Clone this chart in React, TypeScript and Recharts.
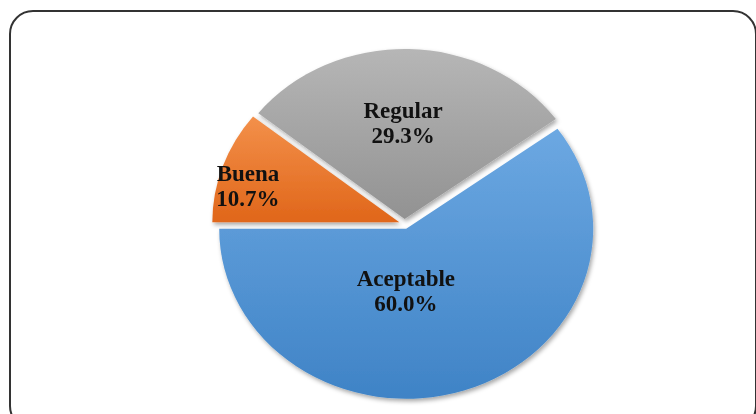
import React from "react";
import { PieChart, Pie, Cell, Sector } from "recharts";

const categories = ["Aceptable", "Buena", "Regular"];
const values = [60.0, 10.7, 29.3];

const data = categories.map((name, i) => ({ name, value: values[i] }));

const GRADIENTS = [
  { id: "gBlue", top: "#6ca8e2", bottom: "#3f83c6" },
  { id: "gOrange", top: "#f3904a", bottom: "#e0661a" },
  { id: "gGray", top: "#b6b6b6", bottom: "#929292" },
];

const SCALE_X = 1.1;
const EXPLODE = 5;
// label placement per slice: fraction of radius, angle shift (deg)
const LABEL_PLACE = [
  { f: 0.42, shift: -17 },
  { f: 0.86, shift: 6 },
  { f: 0.57, shift: 2 },
];

const RAD = Math.PI / 180;

const renderSector = (props: any) => {
  const { cx, cy, innerRadius, outerRadius, startAngle, endAngle, midAngle, index } = props;
  const dx = EXPLODE * Math.cos(-midAngle * RAD);
  const dy = EXPLODE * Math.sin(-midAngle * RAD);
  return (
    <g key={`s-${index}`}>
      <Sector
        cx={cx + dx}
        cy={cy + dy}
        innerRadius={innerRadius}
        outerRadius={outerRadius}
        startAngle={startAngle}
        endAngle={endAngle}
        fill={`url(#${GRADIENTS[index].id})`}
        stroke="none"
        filter="url(#shadow)"
      />
    </g>
  );
};

const renderText = (props: any) => {
  const { cx, cy, outerRadius, midAngle, index, name, percent } = props;
  const p = LABEL_PLACE[index];
  const a = (midAngle + p.shift) * RAD;
  const x = cx + p.f * outerRadius * Math.cos(-a);
  const y = cy + p.f * outerRadius * Math.sin(-a);
  return (
    <g key={`t-${index}`} transform={`translate(${x},${y}) scale(${1 / SCALE_X},1)`}>
      <text
        x={0}
        y={0}
        textAnchor="middle"
        fontFamily="'Liberation Serif', 'Times New Roman', serif"
        fontWeight="bold"
        fontSize={23}
        fill="#111"
      >
        <tspan x={0} dy={-9}>{name}</tspan>
        <tspan x={0} dy={24.5}>{`${(percent * 100).toFixed(1)}%`}</tspan>
      </text>
    </g>
  );
};

export default function App() {
  return (
    <div style={{ position: "relative", width: 756, height: 414, overflow: "hidden", background: "#fff" }}>
      <style>{`body{margin:0;}`}</style>
      <div
        style={{
          position: "absolute",
          left: 9,
          top: 10,
          width: 748,
          height: 420,
          border: "2px solid #333",
          borderRadius: 24,
          boxSizing: "border-box",
        }}
      />
      <div
        style={{
          position: "absolute",
          left: 0,
          top: 0,
          transform: `scaleX(${SCALE_X})`,
          transformOrigin: "399px 0px",
        }}
      >
        <PieChart width={756} height={414}>
          <defs>
            {GRADIENTS.map((g) => (
              <linearGradient key={g.id} id={g.id} x1="0" y1="0" x2="0" y2="1">
                <stop offset="0%" stopColor={g.top} />
                <stop offset="100%" stopColor={g.bottom} />
              </linearGradient>
            ))}
            <filter id="shadow" x="-20%" y="-20%" width="140%" height="140%">
              <feDropShadow dx="1.5" dy="2.5" stdDeviation="2" floodColor="#000" floodOpacity="0.35" />
            </filter>
          </defs>
          <Pie
            data={data}
            dataKey="value"
            nameKey="name"
            cx={399}
            cy={219}
            outerRadius={170}
            startAngle={36}
            endAngle={-324}
            stroke="none"
            isAnimationActive={false}
            labelLine={false}
            label={renderSector}
          >
            {data.map((d) => (
              <Cell key={d.name} fill="transparent" />
            ))}
          </Pie>
          <Pie
            data={data}
            dataKey="value"
            nameKey="name"
            cx={399}
            cy={219}
            outerRadius={170}
            startAngle={36}
            endAngle={-324}
            stroke="none"
            isAnimationActive={false}
            labelLine={false}
            label={renderText}
          >
            {data.map((d) => (
              <Cell key={d.name} fill="transparent" />
            ))}
          </Pie>
        </PieChart>
      </div>
    </div>
  );
}
